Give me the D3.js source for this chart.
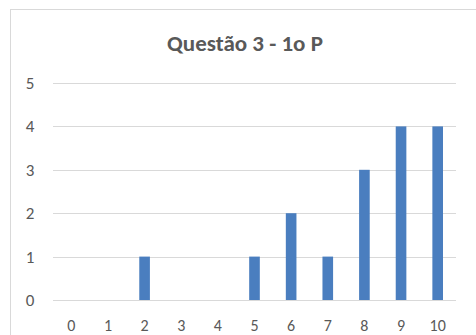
<!DOCTYPE html>
<html>
<head>
    <meta charset="utf-8">
    <title>Questão 3 - 1o P</title>
    <script src="https://d3js.org/d3.v7.min.js"></script>
    <style>
        body { margin: 0; background: #fff; }
        text { font-family: Carlito, "Open Sans", "Noto Sans", sans-serif; fill: #595959; }
    </style>
</head>
<body>
    <script>
        var categories = ["0", "1", "2", "3", "4", "5", "6", "7", "8", "9", "10"];
        var values = [0, 0, 1, 0, 0, 1, 2, 1, 3, 4, 4];
        var yTicks = [0, 1, 2, 3, 4, 5];

        var W = 476, H = 335;
        var plot = {left: 53, right: 456, top: 83, bottom: 300};

        var svg = d3.select("body").append("svg")
            .attr("width", W)
            .attr("height", H);

        // chart frame
        svg.append("rect")
            .attr("x", 10.5)
            .attr("y", 9.5)
            .attr("width", 480)
            .attr("height", 340)
            .attr("fill", "#fff")
            .attr("stroke", "#d9d9d9");

        var x = d3.scaleBand()
            .domain(categories)
            .range([plot.left, plot.right])
            .paddingInner(0.71)
            .paddingOuter(0.355);

        var y = d3.scaleLinear()
            .domain([0, 5])
            .range([plot.bottom, plot.top]);

        // gridlines
        svg.append("g")
            .selectAll("line")
            .data(yTicks)
            .join("line")
            .attr("x1", plot.left)
            .attr("x2", plot.right)
            .attr("y1", function(d) { return Math.round(y(d)) + 0.5; })
            .attr("y2", function(d) { return Math.round(y(d)) + 0.5; })
            .attr("stroke", "#d9d9d9")
            .attr("stroke-width", 1);

        // y labels
        svg.append("g")
            .selectAll("text")
            .data(yTicks)
            .join("text")
            .attr("x", 30)
            .attr("y", function(d) { return y(d); })
            .attr("dy", "0.35em")
            .attr("text-anchor", "middle")
            .style("font-size", "17px")
            .text(function(d) { return d; });

        // bars
        svg.append("g")
            .selectAll("rect")
            .data(values)
            .join("rect")
            .attr("x", function(d, i) { return x(categories[i]); })
            .attr("y", function(d) { return y(d); })
            .attr("width", x.bandwidth())
            .attr("height", function(d) { return y(0) - y(d); })
            .attr("fill", "#4a7ebf");

        // x labels
        svg.append("g")
            .selectAll("text")
            .data(categories)
            .join("text")
            .attr("x", function(d) { return x(d) + x.bandwidth() / 2; })
            .attr("y", 325)
            .attr("dy", "0.35em")
            .attr("text-anchor", "middle")
            .style("font-size", "16px")
            .text(function(d) { return d; });

        // title
        svg.append("text")
            .attr("x", 245)
            .attr("y", 43)
            .attr("dy", "0.35em")
            .attr("text-anchor", "middle")
            .style("font-size", "23px")
            .style("font-weight", "bold")
            .text("Questão 3 - 1o P");
    </script>
</body>
</html>
